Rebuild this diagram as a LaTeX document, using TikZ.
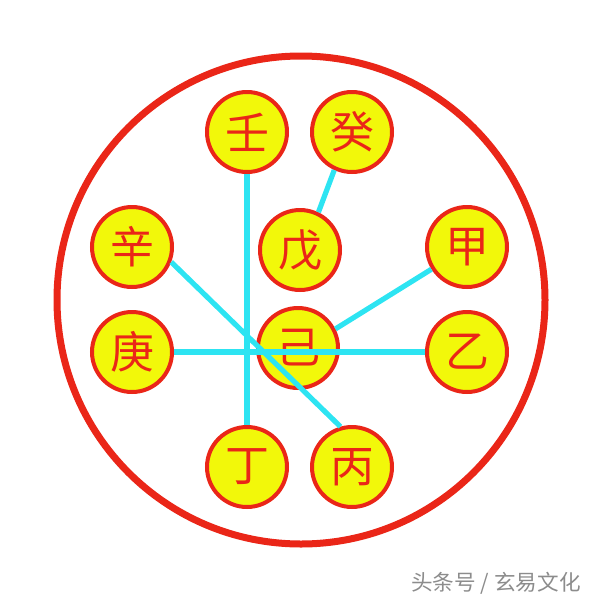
\documentclass[tikz,border=0pt]{standalone}
\usepackage{fontspec}
\newfontfamily\cjk{Noto Sans CJK SC}
\usepackage{tikz}
\usetikzlibrary{shapes}
\definecolor{ringred}{RGB}{234,38,24}
\definecolor{stemyellow}{RGB}{242,248,10}
\definecolor{linkcyan}{RGB}{45,228,242}
\tikzstyle{stem}=[circle,fill=stemyellow,draw=ringred,line width=2pt,minimum size=40pt,inner sep=0pt,text=ringred,font=\cjk\fontsize{22pt}{22pt}\selectfont]
\tikzstyle{link} = [draw,linkcyan,line width=2.6pt]
\tikzstyle{watermark} = [font=\cjk\fontsize{10.8pt}{10.8pt}\selectfont,text=black!45]

\begin{document}
\begin{tikzpicture}[x=0.5pt,y=-0.5pt]
  \useasboundingbox (0,0) rectangle (600,600);
  \draw[ringred,line width=3.5pt] (301,300) circle (244);

   \foreach \pos/\name/\label in {{(247,132)/ren/壬}, {(352,132)/gui/癸}, {(132,247)/xin/辛}, {(300,250)/wu/戊}, {(467,247)/jia/甲},
        {(132,352)/geng/庚}, {(298,348)/ji/己}, {(467,352)/yi/乙}, {(247,467)/ding/丁}, {(352,467)/bing/丙}}
        \node[stem] (\name) at \pos {\label};

    % links between the stems
  \path[link] (ren) -- (ding);
  \path[link] (geng) -- (yi);
  \path[link] (gui.245) -- (wu.64);
  \path[link] (xin.-21) -- (bing.106);
  \path[link] (ji.27) -- (jia.212);

  \node[watermark] (credit) at (496,583) {头条号 / 玄易文化};
\end{tikzpicture}
\end{document}
